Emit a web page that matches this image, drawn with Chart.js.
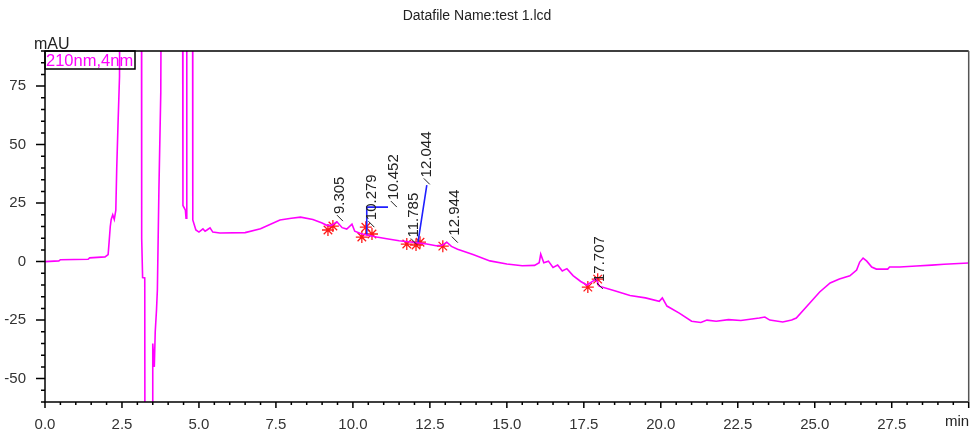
<!DOCTYPE html>
<html>
<head>
<meta charset="utf-8">
<script src="https://cdn.jsdelivr.net/npm/chart.js@4.4.1/dist/chart.umd.min.js"></script>
<style>
  body { margin: 0; background: #fff; }
  #wrap { width: 976px; height: 434px; }
</style>
</head>
<body>
<div id="wrap"><canvas id="chrom"></canvas></div>
<script>
// trace, min vs mAU (values past the frame just run off the top/bottom)
const times = [0.00, 0.45, 0.50, 1.40, 1.45, 1.95, 2.05, 2.08, 2.12, 2.15, 2.20, 2.25, 2.30, 2.33, 2.37, 2.42, 2.47,
  3.12, 3.14, 3.17, 3.24, 3.26, 3.48, 3.50, 3.55, 3.58, 3.62, 3.65, 3.70, 3.76, 3.83,
  4.45, 4.48, 4.56, 4.58, 4.60, 4.61, 4.78, 4.80, 4.90, 5.00, 5.13, 5.20, 5.26, 5.36, 5.45, 5.68,
  6.50, 7.00, 7.63, 8.00, 8.30, 8.70, 9.00, 9.15, 9.30, 9.48, 9.65, 9.80, 9.97, 10.06, 10.25, 10.40,
  10.77, 11.10, 11.50, 11.95, 12.40, 12.70, 12.90, 13.05, 13.20, 13.40, 13.90, 14.45, 15.00, 15.50,
  15.90, 16.05, 16.10, 16.20, 16.35, 16.50, 16.65, 16.80, 16.95, 17.15, 17.40, 17.60, 17.90, 18.00,
  18.50, 19.00, 19.50, 19.95, 20.05, 20.20, 20.60, 21.00, 21.30, 21.50, 21.80, 22.20, 22.60, 23.20,
  23.38, 23.54, 23.96, 24.25, 24.40, 24.84, 25.16, 25.50, 25.80, 26.14, 26.36, 26.46, 26.57, 26.69,
  26.85, 27.00, 27.37, 27.43, 27.76, 28.30, 28.80, 29.20, 30.00];
const mAU = [0, 0.3, 0.8, 1.0, 1.6, 2.0, 3, 8, 15, 18, 20, 18, 22, 40, 58, 79, 300,
  300, 10, -6.8, -7, -300, -300, -35, -45, -30, -21, -12, 31, 72, 300,
  300, 24, 22, 18.6, 20, 300, 300, 17.8, 13.5, 12.6, 14, 13, 13.5, 14.4, 12.6, 12.2,
  12.4, 14, 17.8, 18.5, 19, 18, 16.5, 15.5, 15.5, 17, 14.5, 13.9, 16, 13, 12, 11.5,
  10.5, 9.8, 8.9, 8.3, 7.5, 6.8, 7, 8.3, 6.5, 5.3, 3, 0.3, -1, -1.8,
  -1.6, -0.5, 3.2, -0.5, 0.2, -2.5, -1.5, -4, -3, -6, -8.5, -10, -7.5, -10.5,
  -12.5, -14.5, -15.5, -17, -15.5, -19, -22, -25.5, -26, -25, -25.5, -24.8, -25.2, -24.1,
  -23.7, -25, -25.8, -25, -24.1, -17.7, -13, -9.1, -7.4, -6.1, -3.6, -0.2, 1.5, 0.2,
  -2.3, -3.2, -3.2, -2.3, -2.3, -1.9, -1.5, -1.1, -0.6];

// integration marks (red asterisks)
const markTimes = [9.19, 9.35, 10.29, 10.42, 10.62, 11.75, 12.05, 12.18, 12.92, 17.63, 17.95];
const markValues = [13.5, 15.2, 10.5, 14.7, 11.8, 7.5, 7.1, 8.3, 6.6, -10.9, -7.5];

// blue baselines, null splits the two pieces
const baseTimes = [10.45, 10.45, 11.14, null, 12.11, 12.40];
const baseValues = [11.3, 23.3, 23.3, null, 7.9, 32.7];

// peak labels: retention time text, and where the text starts
const peakNames = ['9.305', '10.279', '10.452', '11.785', '12.044', '12.944', '17.707'];
const labelTimes = [9.58, 10.60, 11.33, 11.98, 12.40, 13.31, 18.02];
const labelValues = [17.3, 14.7, 23.3, 7.3, 33.0, 8.1, -11.7];

const xTicks = [0, 2.5, 5, 7.5, 10, 12.5, 15, 17.5, 20, 22.5, 25, 27.5];
const yTicks = [-50, -25, 0, 25, 50, 75];

const pts = (xs, ys) => xs.map((x, i) => (x === null ? { x: NaN, y: null } : { x: x, y: ys[i] }));

const decor = {
  id: 'decor',
  afterDraw(chart) {
    const { ctx, chartArea: a, scales: { x, y } } = chart;
    ctx.save();
    // frame
    ctx.strokeStyle = '#000';
    ctx.lineWidth = 1.5;
    ctx.beginPath();
    ctx.moveTo(a.left, a.top); ctx.lineTo(a.right, a.top);
    ctx.moveTo(a.left, a.top); ctx.lineTo(a.left, a.bottom); ctx.lineTo(a.right, a.bottom);
    ctx.stroke();
    ctx.strokeStyle = '#555';
    ctx.beginPath();
    ctx.moveTo(a.right, a.top); ctx.lineTo(a.right, a.bottom);
    ctx.stroke();

    // tick marks
    ctx.strokeStyle = '#000';
    ctx.lineWidth = 1.5;
    ctx.beginPath();
    for (let v = 0; v <= 30.001; v += 0.5) {
      const px = x.getPixelForValue(v);
      const len = Math.abs(v / 2.5 - Math.round(v / 2.5)) < 1e-6 ? 6 : 3;
      ctx.moveTo(px, a.bottom); ctx.lineTo(px, a.bottom + len);
    }
    for (let v = -60; v <= 90; v += 5) {
      const py = y.getPixelForValue(v);
      const len = v % 25 === 0 ? 9 : 4;
      ctx.moveTo(a.left, py); ctx.lineTo(a.left - len, py);
    }
    ctx.stroke();

    // texts
    ctx.fillStyle = '#222';
    ctx.font = '14px "Liberation Sans", Arial, sans-serif';
    ctx.textAlign = 'center';
    ctx.textBaseline = 'middle';
    ctx.fillText('Datafile Name:test 1.lcd', 477, 16);
    ctx.font = '16px "Liberation Sans", Arial, sans-serif';
    ctx.textAlign = 'left';
    ctx.textBaseline = 'alphabetic';
    ctx.fillText('mAU', 34, 49);
    ctx.font = '15px "Liberation Sans", Arial, sans-serif';
    ctx.fillText('min', 945, 426);

    // channel box
    ctx.strokeStyle = '#000';
    ctx.lineWidth = 1.5;
    ctx.strokeRect(a.left, a.top, 90, 18);
    ctx.fillStyle = '#ff00ff';
    ctx.font = '16.5px "Liberation Sans", Arial, sans-serif';
    ctx.textBaseline = 'middle';
    ctx.fillText('210nm,4nm', a.left + 1, a.top + 10);

    // peak labels, rotated
    ctx.fillStyle = '#222';
    ctx.strokeStyle = '#222';
    ctx.lineWidth = 1;
    ctx.font = '15px "Liberation Sans", Arial, sans-serif';
    peakNames.forEach((name, i) => {
      const px = x.getPixelForValue(labelTimes[i]);
      const py = y.getPixelForValue(labelValues[i]);
      ctx.save();
      ctx.translate(px, py);
      ctx.rotate(-Math.PI / 2);
      ctx.beginPath();
      ctx.moveTo(0, 3); ctx.lineTo(6, -3);
      ctx.stroke();
      ctx.textAlign = 'left';
      ctx.textBaseline = 'middle';
      ctx.fillText(name, 7, 0);
      ctx.restore();
    });
    ctx.restore();
  }
};

new Chart(document.getElementById('chrom'), {
  type: 'line',
  data: {
    datasets: [
      {
        data: pts(times, mAU),
        borderColor: '#ff00ff',
        borderWidth: 1.6,
        pointRadius: 0,
        tension: 0
      },
      {
        data: pts(baseTimes, baseValues),
        borderColor: '#1f1fff',
        borderWidth: 1.6,
        pointRadius: 0,
        spanGaps: false
      },
      {
        type: 'scatter',
        data: pts(markTimes, markValues),
        pointStyle: 'star',
        pointRadius: 6,
        borderColor: '#ff1a1a',
        borderWidth: 1.3,
        backgroundColor: '#ff1a1a'
      }
    ]
  },
  options: {
    responsive: true,
    maintainAspectRatio: false,
    animation: false,
    layout: { padding: { top: 51, right: 5, left: 0, bottom: 0 } },
    plugins: { legend: { display: false }, tooltip: { enabled: false } },
    scales: {
      x: {
        type: 'linear',
        min: 0,
        max: 30,
        afterBuildTicks: (s) => { s.ticks = xTicks.map(v => ({ value: v })); },
        afterFit: (s) => { s.height = 32; },
        grid: { display: false },
        border: { display: false },
        ticks: {
          padding: 6,
          autoSkip: false,
          maxRotation: 0,
          color: '#333',
          font: { family: '"Liberation Sans", Arial, sans-serif', size: 15 },
          callback: (v) => Number(v).toFixed(1)
        }
      },
      y: {
        min: -60,
        max: 90,
        afterBuildTicks: (s) => { s.ticks = yTicks.map(v => ({ value: v })); },
        afterFit: (s) => { s.width = 45; },
        grid: { display: false },
        border: { display: false },
        ticks: {
          padding: 11,
          color: '#333',
          font: { family: '"Liberation Sans", Arial, sans-serif', size: 15 }
        }
      }
    }
  },
  plugins: [decor]
});
</script>
</body>
</html>
